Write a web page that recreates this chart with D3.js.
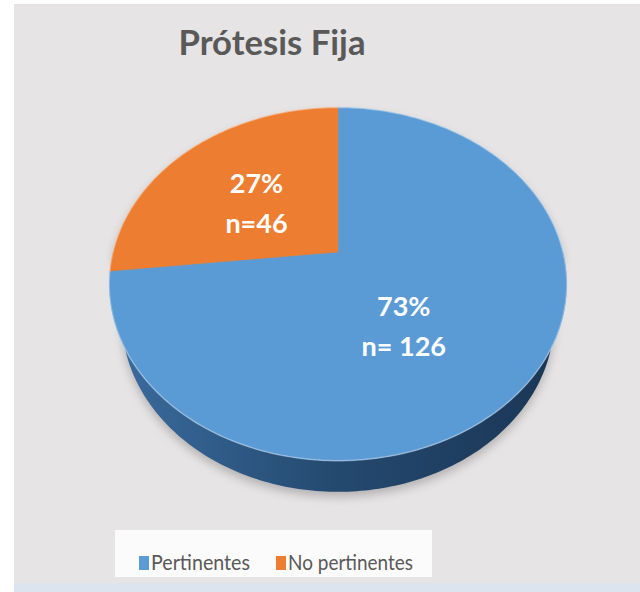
<!DOCTYPE html>
<html>
<head>
<meta charset="utf-8">
<script src="https://cdn.jsdelivr.net/npm/d3@7"></script>
<style>
  body { margin: 0; background: #ffffff; }
  svg { display: block; }
</style>
</head>
<body>
<div id="chart"></div>
<script>
// chart data
const categories = ["Pertinentes", "No pertinentes"];
const counts = [126, 46];
const percents = ["73%", "27%"];
const nLabels = ["n= 126", "n=46"];
const colors = ["#5b9bd5", "#ed7d31"];
const sideColors = [["#3a6c9e", "#24496f", "#1a3655"], ["#b45f25", "#a5541c", "#8a4516"]];

const W = 640, H = 592;

const svg = d3.select("#chart").append("svg")
  .attr("width", W)
  .attr("height", H);

const defs = svg.append("defs");

// background panel
svg.append("rect").attr("x", 14).attr("y", 4).attr("width", W - 14).attr("height", 579).attr("fill", "#e6e4e4");
svg.append("rect").attr("x", 14).attr("y", 583).attr("width", W - 14).attr("height", 9).attr("fill", "#dce5ef");

// title
svg.append("text")
  .attr("x", 272).attr("y", 55)
  .attr("text-anchor", "middle")
  .attr("font-family", "Lato, sans-serif")
  .attr("font-weight", "bold")
  .attr("font-size", 34)
  .attr("fill", "#595959")
  .attr("textLength", 187)
  .attr("lengthAdjust", "spacingAndGlyphs")
  .text("Prótesis Fija");

// 3d pie projection
const cx = 338, cy = 252;      // projected centre of top face
const S = 225;                 // scale
const phi = 49.4 * Math.PI / 180; // tilt
const q = 0.279;               // radius / camera distance
const thick = 0.266;           // thickness / radius

function project(theta, r, y) {
  const X = r * Math.sin(theta), Z = r * Math.cos(theta);
  const depth = 1 + (-y * Math.sin(phi) + Z * Math.cos(phi)) * q;
  const up = y * Math.cos(phi) + Z * Math.sin(phi);
  return [cx + S * X / depth, cy - S * up / depth];
}

function arcPts(a0, a1, y) {
  const n = Math.max(2, Math.ceil(Math.abs(a1 - a0) / (Math.PI / 180)));
  return d3.range(n + 1).map(i => project(a0 + (a1 - a0) * i / n, 1, y));
}

const line = d3.line();

const pie = d3.pie().sort(null).value(d => d);
const slices = pie(counts);

// gradients for side walls
slices.forEach((d, i) => {
  const g = defs.append("linearGradient").attr("id", "side" + i)
    .attr("gradientUnits", "userSpaceOnUse")
    .attr("x1", cx - S).attr("x2", cx + S).attr("y1", 0).attr("y2", 0);
  sideColors[i].forEach((c, j) => g.append("stop").attr("offset", j / 2).attr("stop-color", c));
});

// soft shadow under pie
const shadow = defs.append("filter").attr("id", "shadow").attr("x", "-20%").attr("y", "-20%").attr("width", "140%").attr("height", "140%");
shadow.append("feGaussianBlur").attr("stdDeviation", 5);

const fullOutline = arcPts(Math.PI / 2, 3 * Math.PI / 2, -thick)
  .concat(arcPts(3 * Math.PI / 2, 5 * Math.PI / 2, 0));
svg.append("path")
  .attr("d", line(fullOutline) + "Z")
  .attr("transform", "translate(0,5)")
  .attr("fill", "#8a8888")
  .attr("opacity", 0.55)
  .attr("filter", "url(#shadow)");

// side walls (front half only)
slices.forEach((d, i) => {
  const a = Math.max(d.startAngle, Math.PI / 2), b = Math.min(d.endAngle, 3 * Math.PI / 2);
  if (b <= a) return;
  const pts = arcPts(a, b, 0).concat(arcPts(b, a, -thick));
  svg.append("path")
    .attr("d", line(pts) + "Z")
    .attr("fill", `url(#side${i})`);
});

// top faces
slices.forEach((d, i) => {
  const pts = [project(0, 0, 0)].concat(arcPts(d.startAngle, d.endAngle, 0));
  svg.append("path")
    .attr("d", line(pts) + "Z")
    .attr("fill", colors[i])
    .attr("stroke", colors[i])
    .attr("stroke-width", 0.5);
});

// faint rim highlight
svg.append("path")
  .attr("d", line(arcPts(0, 2 * Math.PI, 0)) + "Z")
  .attr("fill", "none")
  .attr("stroke", "#ffffff")
  .attr("stroke-opacity", 0.35)
  .attr("stroke-width", 1.5);

// data labels
const labelR = [0.45, 0.45];
const labelShift = [[-14, 20], [-10, 0]];
slices.forEach((d, i) => {
  const mid = (d.startAngle + d.endAngle) / 2;
  const p = project(mid, labelR[i], 0);
  const x = p[0] + labelShift[i][0], y = p[1] + labelShift[i][1];
  const t = svg.append("text")
    .attr("text-anchor", "middle")
    .attr("font-family", "Lato, sans-serif")
    .attr("font-weight", "bold")
    .attr("font-size", 27)
    .attr("fill", "#ffffff");
  t.append("tspan").attr("x", x).attr("y", y - 10).text(percents[i]);
  t.append("tspan").attr("x", x).attr("y", y + 30).text(nLabels[i]);
});

// legend
const lg = svg.append("g");
lg.append("rect").attr("x", 115).attr("y", 530).attr("width", 317).attr("height", 47).attr("fill", "#ffffff").attr("opacity", 0.85);
const itemX = [139, 276];
const itemW = [99, 125];
categories.forEach((c, i) => {
  lg.append("rect").attr("x", itemX[i]).attr("y", 556).attr("width", 10).attr("height", 14).attr("fill", colors[i]);
  lg.append("text")
    .attr("x", itemX[i] + 12).attr("y", 570)
    .attr("font-family", "Lato, sans-serif")
    .attr("font-size", 21)
    .attr("fill", "#595959")
    .attr("textLength", itemW[i])
    .attr("lengthAdjust", "spacingAndGlyphs")
    .text(c);
});
</script>
</body>
</html>
